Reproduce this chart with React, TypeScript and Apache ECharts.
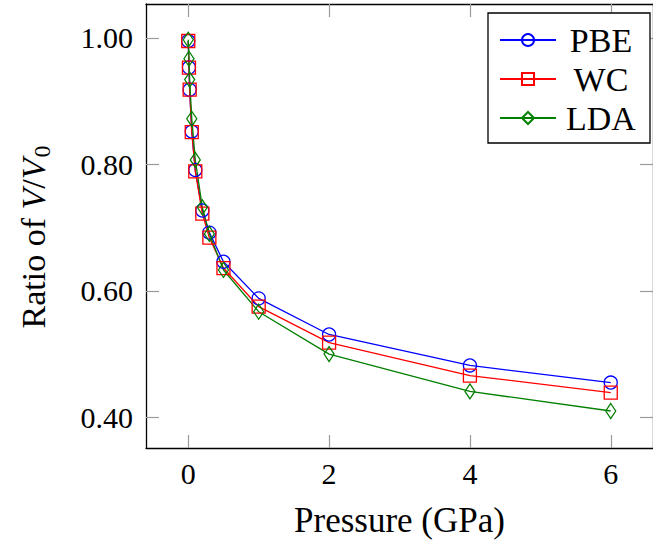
import React, { useEffect, useRef } from "react";
import * as echarts from "echarts";

const pressure = [0, 0.01, 0.02, 0.05, 0.1, 0.2, 0.3, 0.5, 1, 2, 4, 6];
const pbe = [0.995, 0.953, 0.918, 0.852, 0.791, 0.727, 0.692, 0.646, 0.588, 0.531, 0.482, 0.455];
const wc = [0.995, 0.953, 0.918, 0.851, 0.789, 0.722, 0.684, 0.636, 0.575, 0.518, 0.466, 0.439];
const lda = [0.997, 0.967, 0.934, 0.872, 0.807, 0.732, 0.690, 0.633, 0.567, 0.500, 0.441, 0.410];
const seriesNames = ["PBE", "WC", "LDA"];
const xTicks = [0, 2, 4, 6];
const yTicks = [0.4, 0.6, 0.8, 1.0];

const FONT = "Liberation Serif, Times New Roman, Tinos, DejaVu Serif, serif";

export default function App() {
  const ref = useRef<HTMLDivElement>(null);
  useEffect(() => {
    if (!ref.current) return;
    const chart = echarts.init(ref.current, undefined, { renderer: "svg" });
    const pairs = (vals: number[]) => pressure.map((p, i) => [p, vals[i]]);
    const tickStyle = { show: true, inside: true, length: 13, lineStyle: { color: "#9a9a9a", width: 1.2 } };
    const lineAxis = { show: true, onZero: false, lineStyle: { color: "#000", width: 1.3 } };
    const mk = (name: string, vals: number[], color: string, symbol: string, size: any) => ({
      name,
      type: "line",
      data: pairs(vals),
      symbol,
      symbolSize: size,
      showAllSymbol: true,
      lineStyle: { color, width: 1.3 },
      itemStyle: { color: "rgba(0,0,0,0)", borderColor: color, borderWidth: 1.3 },
      emphasis: { disabled: true },
      z: 3,
    });
    chart.setOption({
      animation: false,
      backgroundColor: "#fff",
      textStyle: { fontFamily: FONT },
      grid: { left: 146, top: 4, width: 514, height: 444 },
      xAxis: [
        {
          type: "value",
          min: -0.6,
          max: 6.6,
          position: "bottom",
          axisLine: lineAxis,
          axisTick: { ...tickStyle, customValues: xTicks },
          axisLabel: { customValues: xTicks, fontFamily: FONT, fontSize: 30, color: "#000", margin: 10 },
          splitLine: { show: false },
          name: "Pressure (GPa)",
          nameLocation: "middle",
          nameGap: 55,
          nameTextStyle: { fontFamily: FONT, fontSize: 35, color: "#000" },
        },
        {
          type: "value",
          min: -0.6,
          max: 6.6,
          position: "top",
          axisLine: lineAxis,
          axisTick: { ...tickStyle, customValues: xTicks },
          axisLabel: { show: false },
          splitLine: { show: false },
        },
      ],
      yAxis: [
        {
          type: "value",
          min: 0.3515,
          max: 1.0535,
          position: "left",
          axisLine: lineAxis,
          axisTick: { ...tickStyle, customValues: yTicks },
          axisLabel: {
            customValues: yTicks,
            formatter: (v: number) => v.toFixed(2),
            fontFamily: FONT,
            fontSize: 30,
            color: "#000",
            margin: 13,
          },
          splitLine: { show: false },
        },
        {
          type: "value",
          min: 0.3515,
          max: 1.0535,
          position: "right",
          axisLine: lineAxis,
          axisTick: { ...tickStyle, customValues: yTicks },
          axisLabel: { show: false },
          splitLine: { show: false },
        },
      ],
      legend: {
        data: seriesNames,
        left: 488,
        top: 13,
        orient: "vertical",
        itemWidth: 56,
        itemHeight: 15,
        itemGap: 5,
        padding: [10, 9, 8, 11],
        borderColor: "#000",
        borderWidth: 1.3,
        borderRadius: 0,
        backgroundColor: "#fff",
        selectedMode: false,
        formatter: (name: string) => `{c|${name}}`,
        textStyle: {
          fontFamily: FONT,
          fontSize: 34,
          color: "#000",
          rich: { c: { width: 80, align: "center", fontFamily: FONT, fontSize: 34, lineHeight: 36, color: "#000" } },
        },
      },
      graphic: [
        {
          type: "text",
          x: 33,
          y: 237,
          rotation: Math.PI / 2,
          style: {
            text: "Ratio of {i|V}/{i|V}{s|0}",
            fontFamily: FONT,
            fontSize: 34,
            fill: "#000",
            align: "center",
            verticalAlign: "middle",
            rich: {
              i: { fontFamily: FONT, fontSize: 34, fontStyle: "italic", fill: "#000" },
              s: { fontFamily: FONT, fontSize: 24, fill: "#000", padding: [18, 0, 0, 1] },
            },
          },
        },
      ],
      series: [
        mk(seriesNames[0], pbe, "#0000ff", "circle", 13),
        mk(seriesNames[1], wc, "#ff0000", "rect", 13),
        mk(seriesNames[2], lda, "#007f00", "diamond", [10, 15]),
      ],
    });
    return () => chart.dispose();
  }, []);
  return <div ref={ref} style={{ position: "absolute", left: 0, top: 0, width: 653, height: 547 }} />;
}
